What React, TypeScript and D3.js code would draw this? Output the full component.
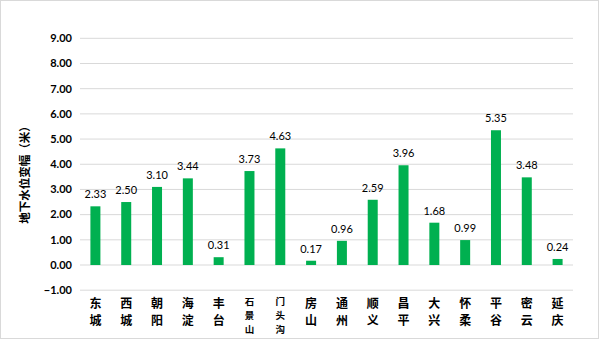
import React from "react";
import * as d3 from "d3";

const categories = ["东城", "西城", "朝阳", "海淀", "丰台", "石景山", "门头沟", "房山", "通州", "顺义", "昌平", "大兴", "怀柔", "平谷", "密云", "延庆"];
const values = [2.33, 2.5, 3.1, 3.44, 0.31, 3.73, 4.63, 0.17, 0.96, 2.59, 3.96, 1.68, 0.99, 5.35, 3.48, 0.24];
const yTicks = [-1, 0, 1, 2, 3, 4, 5, 6, 7, 8, 9];
const yTitle = "地下水位变幅（米）";

export default function App() {
  const W = 600, H = 341;
  const left = 80, right = 573, top = 38.3, bottom = 290.2;
  const x = d3.scaleBand<string>().domain(categories).range([left, right]).paddingInner(0).paddingOuter(0);
  const y = d3.scaleLinear().domain([-1, 9]).range([bottom, top]);
  const bw = 10;
  return (
    <div style={{ position: "absolute", left: 0, top: 0 }}>
      <svg width={W} height={H} style={{ display: "block", background: "#fff" }}>
        <rect x={0.5} y={0.5} width={598} height={338} fill="#fff" stroke="#D9D9D9" strokeWidth={1} />
        {yTicks.map((t) => (
          <g key={t}>
            <line x1={left} x2={right} y1={y(t)} y2={y(t)} stroke="#D9D9D9" strokeWidth={1} />
            <text x={72} y={y(t)} dy="0.35em" textAnchor="end" fontFamily="Lato, 'Open Sans', sans-serif" fontWeight="bold" fontSize={11} fill="#000">
              {d3.format(".2f")(t)}
            </text>
          </g>
        ))}
        {categories.map((c, i) => {
          const v = values[i];
          const cx = (x(c) as number) + x.bandwidth() / 2;
          const y0 = y(0), y1 = y(v);
          const three = c.length === 3;
          const fs = three ? 9.5 : 12;
          const step = three ? 13.9 : 17.6;
          const start = three ? 302 : 303.5;
          return (
            <g key={c}>
              <rect x={cx - bw / 2} y={Math.min(y0, y1)} width={bw} height={Math.abs(y0 - y1)} fill="#00B050" />
              <text x={cx} y={y1 - 8} textAnchor="middle" fontFamily="Lato, 'Open Sans', sans-serif" fontSize={11} fill="#000">
                {d3.format(".2f")(v)}
              </text>
              {c.split("").map((ch, j) => (
                <text key={j} x={cx} y={start + j * step} dy="0.35em" textAnchor="middle" fontFamily="'Noto Sans CJK SC', sans-serif" fontWeight="bold" fontSize={fs} fill="#000">
                  {ch}
                </text>
              ))}
            </g>
          );
        })}
        <text transform={`translate(25,172) rotate(-90)`} textAnchor="middle" dy="0.35em" fontFamily="'Noto Sans CJK SC', sans-serif" fontWeight="bold" fontSize={11.5} fill="#000">
          {yTitle}
        </text>
      </svg>
    </div>
  );
}
